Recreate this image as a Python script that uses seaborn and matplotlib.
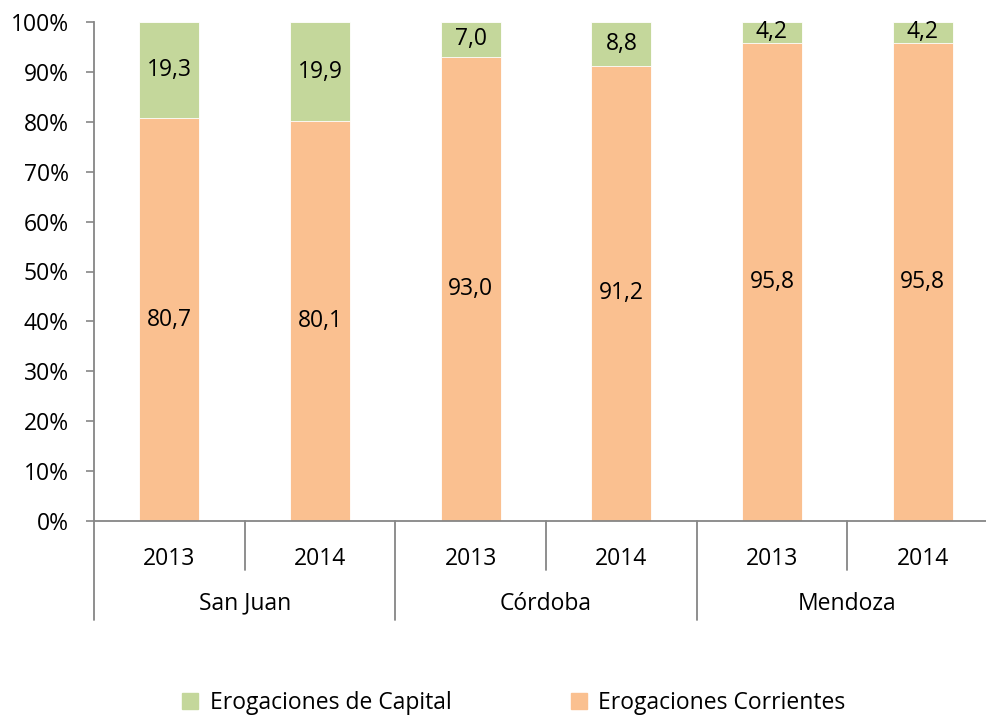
import numpy as np
import pandas as pd
import seaborn as sns
from matplotlib import pyplot as plt
from matplotlib.patches import Patch
import matplotlib.transforms as mtransforms

provinces = ["San Juan", "San Juan", "Córdoba", "Córdoba", "Mendoza", "Mendoza"]
years = ["2013", "2014", "2013", "2014", "2013", "2014"]
corrientes = [80.7, 80.1, 93.0, 91.2, 95.8, 95.8]
capital = [19.3, 19.9, 7.0, 8.8, 4.2, 4.2]

green = "#C4D79B"
orange = "#FAC090"
grey = "#868686"
fs = 16.5

sns.set_style("white")
plt.rcParams["font.family"] = ["Open Sans", "DejaVu Sans"]
plt.rcParams["text.color"] = "black"
plt.rcParams["xtick.color"] = "black"
plt.rcParams["ytick.color"] = "black"

df = pd.DataFrame({"province": provinces, "year": years,
                   "corrientes": corrientes, "capital": capital})
df["key"] = df["province"] + " " + df["year"]
df["total"] = df["corrientes"] + df["capital"]

fig = plt.figure(figsize=(9.87, 7.15), dpi=100)
ax = fig.add_axes([94 / 987, 194 / 715, 904 / 987, 499 / 715])

sns.barplot(data=df, x="key", y="total", color=green, width=0.4,
            saturation=1, ax=ax, order=df["key"], linewidth=0.6, edgecolor="white")
sns.barplot(data=df, x="key", y="corrientes", color=orange, width=0.4,
            saturation=1, ax=ax, order=df["key"], linewidth=0.6, edgecolor="white")

fmt = lambda v: f"{v:.1f}".replace(".", ",")
for i, (c, k) in enumerate(zip(corrientes, capital)):
    ax.text(i, c / 2, fmt(c), ha="center", va="center", fontsize=fs)
    ax.text(i, c + k / 2, fmt(k), ha="center", va="center", fontsize=fs)

ax.set_ylim(0, 100)
ax.set_xlim(-0.5, 5.5)
ax.set_yticks(np.arange(0, 101, 10))
ax.set_yticklabels([f"{t}%" for t in range(0, 101, 10)])
ax.tick_params(axis="y", left=True, length=6, width=1.2, color=grey,
               pad=12, labelsize=fs, labelcolor="black")
ax.tick_params(axis="x", bottom=False, length=0, pad=19, labelsize=fs,
               labelcolor="black")
ax.set_xticks(range(len(years)))
ax.set_xticklabels(years)
ax.set_xlabel("")
ax.set_ylabel("")

for s in ["top", "right"]:
    ax.spines[s].set_visible(False)
for s in ["left", "bottom"]:
    ax.spines[s].set_color(grey)
    ax.spines[s].set_linewidth(1.3)

trans = mtransforms.blended_transform_factory(ax.transData, ax.transAxes)
for x in [0.5, 2.5, 4.5]:
    ax.plot([x, x], [0, -0.098], color=grey, lw=1.3, transform=trans, clip_on=False)
for x in [-0.5, 1.5, 3.5, 5.5]:
    ax.plot([x, x], [0, -0.198], color=grey, lw=1.3, transform=trans, clip_on=False)

groups = list(dict.fromkeys(provinces))
for g in groups:
    idx = [i for i, p in enumerate(provinces) if p == g]
    ax.text(np.mean(idx), -0.166, g, ha="center", va="center", fontsize=fs,
            transform=trans)

handles = [Patch(color=green, label="Erogaciones de Capital"),
           Patch(color=orange, label="Erogaciones Corrientes")]
fig.legend(handles=handles, loc="center", bbox_to_anchor=(514 / 987, 1 - 703 / 715),
           ncol=2, frameon=False, fontsize=fs, handlelength=0.7, handleheight=0.7,
           handletextpad=0.5, columnspacing=5.2)

fig.savefig("out.png", dpi=100)
